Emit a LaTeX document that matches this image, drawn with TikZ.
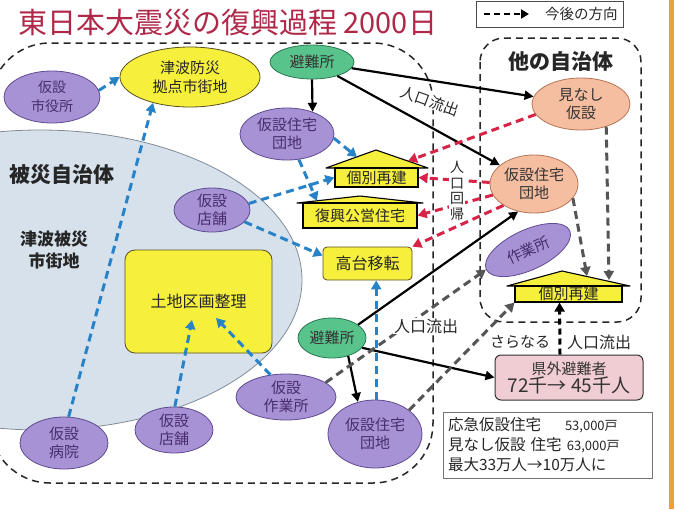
\documentclass[tikz,border=0pt]{standalone}
\usepackage{fontspec}
\setmainfont{Noto Sans CJK JP}
\usetikzlibrary{arrows.meta,shapes.geometric,calc}
\definecolor{purfill}{RGB}{168,146,214}
\definecolor{purline}{RGB}{95,75,145}
\definecolor{purtext}{RGB}{70,45,110}
\definecolor{grnfill}{RGB}{88,196,140}
\definecolor{grnline}{RGB}{40,120,80}
\definecolor{yelfill}{RGB}{246,240,60}
\definecolor{yelline}{RGB}{90,80,30}
\definecolor{salfill}{RGB}{246,190,160}
\definecolor{salline}{RGB}{185,115,85}
\definecolor{circfill}{RGB}{214,225,236}
\definecolor{circline}{RGB}{130,140,150}
\definecolor{bluearr}{RGB}{40,130,200}
\definecolor{redarr}{RGB}{215,35,70}
\definecolor{grayarr}{RGB}{85,85,85}
\definecolor{titlered}{RGB}{175,40,72}
\definecolor{pinkfill}{RGB}{240,205,210}
\definecolor{orangebar}{RGB}{240,160,50}
\begin{document}
\begin{tikzpicture}[x=1pt,y=-1pt,
  every node/.style={inner sep=0pt},
  pnode/.style={ellipse, draw=purline, fill=purfill, line width=0.8pt, text=purtext, align=center, inner sep=-3pt, font=\fontsize{15}{18}\selectfont},
  gnode/.style={ellipse, draw=grnline, fill=grnfill, line width=0.8pt, text=black!80, align=center, inner sep=-3pt, font=\fontsize{15}{18}\selectfont},
  ynode/.style={ellipse, draw=yelline, fill=yelfill, line width=0.8pt, text=black!85, align=center, inner sep=-3pt, font=\fontsize{15}{19}\selectfont},
  snode/.style={ellipse, draw=salline, fill=salfill, line width=0.8pt, text=black!80, align=center, inner sep=-3pt, font=\fontsize{15}{18}\selectfont},
  ybox/.style={rectangle, draw=yelline, fill=yelfill, line width=0.8pt, text=black!85, font=\fontsize{16}{19}\selectfont},
  hbody/.style={rectangle, draw=black, fill=yelfill, line width=1.1pt, text=black!85, font=\fontsize{15}{18}\selectfont},
  roof/.style={draw=black, fill=yelfill, line width=1.1pt, line join=round},
  region/.style={draw=black!85, line width=1.5pt, dash pattern=on 7pt off 5pt},
  barr/.style={draw=black, line width=2.2pt, -{Triangle[length=9pt,width=9pt]}},
  blkd/.style={draw=black, line width=3pt, dash pattern=on 6pt off 4pt, -{Triangle[length=9pt,width=10pt]}},
  bluea/.style={draw=bluearr, line width=3pt, dash pattern=on 8pt off 5pt, -{Triangle[length=9pt,width=10pt]}},
  reda/.style={draw=redarr, line width=3pt, dash pattern=on 8pt off 5pt, -{Triangle[length=9pt,width=10pt]}},
  graya/.style={draw=grayarr, line width=3pt, dash pattern=on 8pt off 5pt, -{Triangle[length=9pt,width=10pt]}},
  lbl/.style={text=black!85, font=\fontsize{15}{18}\selectfont},
  wlbl/.style={lbl, fill=white, inner sep=1pt}
]
\useasboundingbox (0,0) rectangle (677,509);
\clip (0,0) rectangle (677,509);
\fill[white] (0,0) rectangle (677,509);
\fill[orangebar] (669,0) rectangle (674,509);

% big circle
\draw[fill=circfill, draw=circline, line width=0.8pt] (40,280) ellipse [x radius=262, y radius=150];

% regions
\draw[region, rounded corners=60pt] (-10,43) rectangle (433,483);
\draw[region, rounded corners=24pt] (480,38) rectangle (641,322);

% title and legend
\node[anchor=west, text=titlered, font=\fontsize{29}{32}\selectfont] (title) at (18,23) {東日本大震災の復興過程 2000日};
\node[draw=black!70, line width=0.8pt, minimum width=147pt, minimum height=26pt] (legend) at (549.5,14) {};
\coordinate (lga) at (484,14);
\coordinate (lgb) at (529,14);
\draw[draw=black, line width=2.5pt, dash pattern=on 6pt off 4pt, -{Triangle[length=8pt,width=9pt]}] (lga) -- (lgb);
\node[lbl, anchor=west, font=\fontsize{14.5}{16}\selectfont] (lgt) at (545,14) {今後の方向};

% region titles
\node[lbl, font=\bfseries\fontsize{21}{24}\selectfont] (hisai) at (62,175) {被災自治体};
\node[lbl, align=center, font=\bfseries\fontsize{17}{22}\selectfont] (tsunami) at (54,250) {津波被災\\市街地};
\node[lbl, font=\bfseries\fontsize{21}{24}\selectfont] (tano) at (561,61) {他の自治体};

% nodes left
\node[pnode, minimum width=96pt, minimum height=52pt, font=\fontsize{14}{19}\selectfont] (kshi) at (52,97) {仮設\\市役所};
\node[ynode, minimum width=140pt, minimum height=60pt] (tsu) at (190,77) {津波防災\\拠点市街地};
\node[gnode, minimum width=84pt, minimum height=34pt] (hin1) at (312,62) {避難所};
\node[pnode, minimum width=94pt, minimum height=52pt] (kj1) at (287,134) {仮設住宅\\団地};
\node[pnode, minimum width=76pt, minimum height=44pt] (kt1) at (212,210) {仮設\\店舗};
\node[ybox, rounded corners=10pt, minimum width=147pt, minimum height=103pt] (toc) at (198.5,301.5) {土地区画整理};
\node[ybox, rounded corners=4pt, minimum width=89pt, minimum height=33pt] (kodai) at (367.5,263.5) {高台移転};
\node[gnode, minimum width=68pt, minimum height=40pt] (hin2) at (332,338) {避難所};
\node[pnode, minimum width=100pt, minimum height=46pt] (ksa) at (286,397) {仮設\\作業所};
\node[pnode, minimum width=94pt, minimum height=68pt] (kj3) at (375,434) {仮設住宅\\団地};
\node[pnode, minimum width=78pt, minimum height=46pt] (kt2) at (174,430) {仮設\\店舗};
\node[pnode, minimum width=88pt, minimum height=52pt] (kbyo) at (64,443) {仮設\\病院};

% houses
\draw[roof] (326,168) -- (376,150) -- (428,168) -- cycle;
\node[hbody, minimum width=83pt, minimum height=19pt] (kob1) at (376.5,177.5) {個別再建};
\draw[roof] (297,203) -- (360,196) -- (423,203) -- cycle;
\node[hbody, minimum width=114pt, minimum height=25pt] (kok) at (360,215.5) {復興公営住宅};
\draw[roof] (507,286) -- (562,271) -- (630,286) -- cycle;
\node[hbody, minimum width=107pt, minimum height=16pt] (kob2) at (568.5,294) {個別再建};

% nodes right
\node[snode, minimum width=98pt, minimum height=52pt] (mina) at (581,104) {見なし\\仮設};
\node[snode, minimum width=88pt, minimum height=58pt] (kr) at (534,184) {仮設住宅\\団地};
\node[pnode, rotate=25, minimum width=92pt, minimum height=40pt] (saku) at (528,250) {作業所};
\node[draw=black!80, fill=pinkfill, line width=1pt, rounded corners=6pt, minimum width=148pt, minimum height=45pt, align=center, text=black!80] (ken) at (569,377.5) {{\fontsize{15}{20}\selectfont 県外避難者}\\{\fontsize{19}{21}\selectfont 72千→ 45千人}};
\node[draw=black!55, line width=0.8pt, minimum width=209pt, minimum height=66pt, text width=199pt, align=left, text=black!85, font=\fontsize{15.5}{20}\selectfont] (info) at (547.5,445) {応急仮設住宅\hspace{24pt}{\fontsize{13}{20}\selectfont 53,000戸}\\見なし仮設 住宅 {\fontsize{13}{20}\selectfont 63,000戸}\\最大33万人→10万人に};

% coordinates on houses / boxes
\coordinate (kob1-l) at (357,157);
\coordinate (kob1-r) at (408,161);
\coordinate (kok-t) at (317,201);
\coordinate (kob2-t1) at (587,276);
\coordinate (kob2-t2) at (609,280);
\coordinate (toc-in1) at (192,320);
\coordinate (toc-in2) at (216,318);

% label over region corner (drawn before arrows)
\node[lbl, fill=white, inner sep=0.5pt, rotate=-20] (ryu1) at (430,101) {人口流出};

% black arrows
\draw[barr] (hin1.south) -- (kj1.41);
\draw[barr] (hin1) -- (mina);
\draw[barr] (hin1) -- (kr);
\draw[barr] (hin2.27) -- (kr.240);
\draw[barr] (hin2.-18) -- (ken.west);
\draw[barr] (hin2.-48) -- (kj3.118);

% blue arrows
\draw[bluea] (kshi.8) -- (tsu.180);
\draw[bluea] (kbyo.80) -- (tsu.215);
\draw[bluea] (kj1.-5) -- (kob1-l);
\draw[bluea] (kj1.-65) -- (kok-t);
\draw[bluea] (kt1.10) -- (kob1.west);
\draw[bluea] (kt1.-20) -- (kodai.170);
\draw[bluea] (kj3.88) -- (kj3.88 |- kodai.south);
\draw[bluea] (kt2.88) -- (toc-in1);
\draw[bluea] (ksa.125) -- (toc-in2);

% red arrows
\draw[reda] (mina.193) -- (kob1-r);
\draw[reda] (kr.178) -- (kob1.east);
\draw[reda] (kr.195) -- (kok.east);
\draw[reda] (kr.215) -- (kodai.north east);

% gray arrows
\draw[graya] (ksa.20) -- (saku.west);
\draw[graya] (kj3.35) -- (kob2.south west);
\draw[graya] (kr.-20) -- (kob2-t1);
\draw[graya] (mina.-42) -- (kob2-t2);

% further outflow
\draw[blkd] ($(ken.north)+(-9,0)$) -- ($(kob2.south)+(-9,0)$);

% labels
\node[wlbl, align=center, font=\fontsize{14}{15.5}\selectfont] (kaiki) at (457,191) {人\\口\\回\\帰};
\node[wlbl, font=\fontsize{16}{18}\selectfont] (ryu2) at (426,326) {人口流出};
\node[lbl, font=\fontsize{15}{18}\selectfont] (saranaru) at (520,342) {さらなる};
\node[lbl, font=\fontsize{16}{18}\selectfont] (ryu3) at (599,342) {人口流出};
\end{tikzpicture}
\end{document}
